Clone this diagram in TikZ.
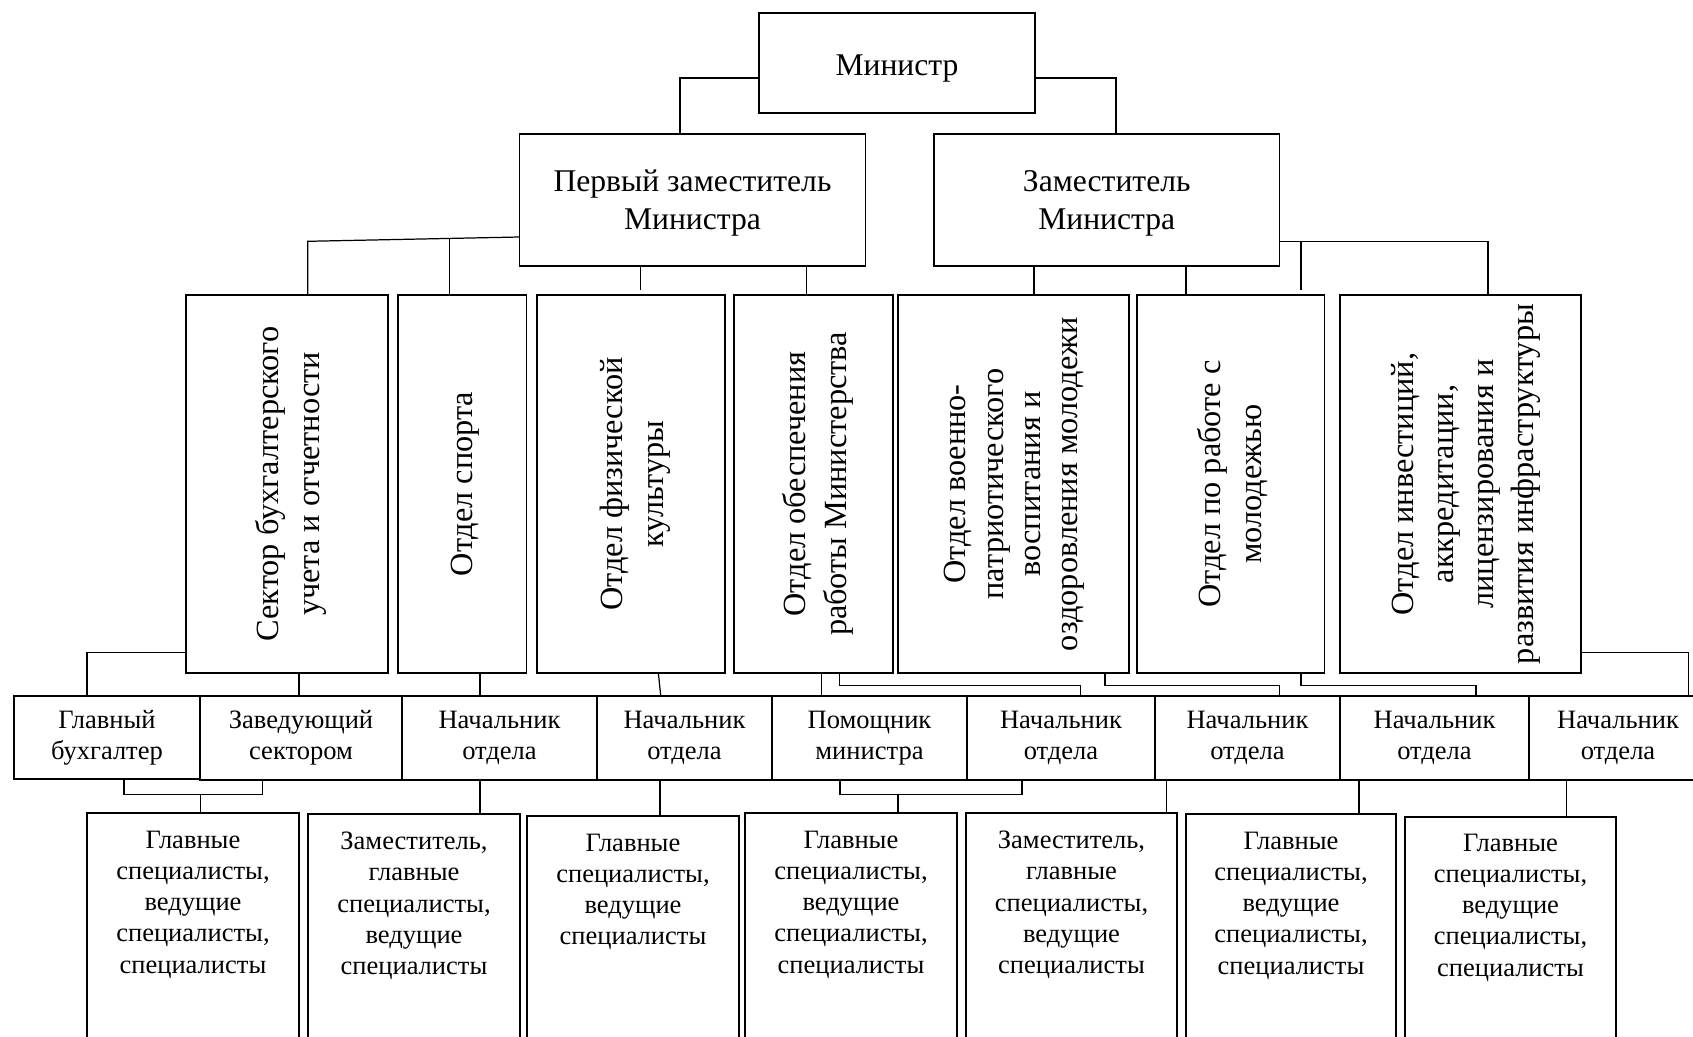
\documentclass[tikz,border=0pt]{standalone}
\usepackage{fontspec}
\setmainfont{Liberation Serif}
\usepackage{tikz}
\usetikzlibrary{positioning,calc,fit}
\tikzset{
  unit/.style={draw, line width=0.7pt, inner sep=0pt, align=center, font=\fontsize{18}{21.6}\selectfont},
  sz/.style 2 args={minimum width=#1*0.02cm, minimum height=#2*0.02cm},
  head/.style={unit, font=\fontsize{15.1}{17.5}\selectfont},
  staff/.style={draw, line width=0.7pt, inner sep=0pt},
  vtext/.style={rotate=90, align=center, inner sep=0pt, font=\fontsize{18.4}{23.3}\selectfont},
  stext/.style={align=center, inner sep=0pt, font=\fontsize{15.1}{17.7}\selectfont},
  link/.style={line width=0.7pt},
}

\begin{document}
\begin{tikzpicture}[x=0.02cm, y=-0.02cm]
  \useasboundingbox (0,0) rectangle (1693,1036);
  \clip (0,0) rectangle (1693,1036);

  \node[unit, sz={276}{100}, text height=14.2pt, text depth=0pt] (min) at (897,63) {Министр};
  \node[unit, sz={346}{132}, text depth=0pt] (fd) at (692.5,200) {Первый заместитель\\Министра};
  \node[unit, sz={345.5}{132}, text depth=0pt] (dep) at (1106.75,200) {Заместитель\\Министра};

  \node[unit, fit={(186,295) (388,673)}] (s1) {};
  \node[unit, fit={(398,295) (526.5,673)}] (s2) {};
  \node[unit, fit={(537,295) (725,673)}] (s3) {};
  \node[unit, fit={(734,295) (893,673)}] (s4) {};
  \node[unit, fit={(898,295) (1129,673)}] (s5) {};
  \node[unit, fit={(1137,295) (1324.5,673)}] (s6) {};
  \node[unit, fit={(1340,295) (1581,673)}] (s7) {};
  \node[vtext] (s1t) at ($(s1)+(4,0)$) {Сектор бухгалтерского\\учета и отчетности};
  \node[vtext] (s2t) at ($(s2)+(3,0)$) {Отдел спорта};
  \node[vtext] (s3t) at ($(s3)+(4,0)$) {Отдел физической\\культуры};
  \node[vtext] (s4t) at ($(s4)+(4,0)$) {Отдел обеспечения\\работы Министерства};
  \node[vtext, font=\fontsize{18.4}{21.2}\selectfont] (s5t) at ($(s5)+(1,0)$) {Отдел военно-\\патриотического\\воспитания и\\оздоровления молодежи};
  \node[vtext] (s6t) at ($(s6)+(2,0)$) {Отдел по работе с\\молодежью};
  \node[vtext, font=\fontsize{18.4}{22.8}\selectfont] (s7t) at ($(s7)+(5,0)$) {Отдел инвестиций,\\аккредитации,\\лицензирования и\\развития инфраструктуры};

  \node[head, sz={186}{83}] (h1) at (107,737.5) {Главный\\бухгалтер};
  \node[head, sz={202}{84}] (h2) at (301,738) {Заведующий\\сектором};
  \node[head, sz={195}{84}] (h3) at (499.5,738) {Начальник\\отдела};
  \node[head, sz={175}{84}] (h4) at (684.5,738) {Начальник\\отдела};
  \node[head, sz={195}{84}] (h5) at (869.5,738) {Помощник\\министра};
  \node[head, sz={188}{84}] (h6) at (1061,738) {Начальник\\отдела};
  \node[head, sz={185}{84}] (h7) at (1247.5,738) {Начальник\\отдела};
  \node[head, sz={189}{84}] (h8) at (1434.5,738) {Начальник\\отдела};
  \node[head, fit={(1529,696) (1720,780)}] (h9) {};
  \node[stext] (h9t) at (1618,738) {Начальник\\отдела};

  \node[staff, fit={(87,813) (299,1060)}] (w1) {};
  \node[staff, fit={(308,814) (520,1060)}] (w2) {};
  \node[staff, fit={(527,816) (739,1060)}] (w3) {};
  \node[staff, fit={(745,813) (957,1060)}] (w4) {};
  \node[staff, fit={(966,813) (1177,1060)}] (w5) {};
  \node[staff, fit={(1186,814) (1396,1060)}] (w6) {};
  \node[staff, fit={(1405,817) (1616,1060)}] (w7) {};
  \node[stext, below=0.37cm of w1.north] (w1t) {Главные\\специалисты,\\ведущие\\специалисты,\\специалисты};
  \node[stext, below=0.37cm of w2.north] (w2t) {Заместитель,\\главные\\специалисты,\\ведущие\\специалисты};
  \node[stext, below=0.37cm of w3.north] (w3t) {Главные\\специалисты,\\ведущие\\специалисты};
  \node[stext, below=0.37cm of w4.north] (w4t) {Главные\\специалисты,\\ведущие\\специалисты,\\специалисты};
  \node[stext, below=0.37cm of w5.north] (w5t) {Заместитель,\\главные\\специалисты,\\ведущие\\специалисты};
  \node[stext, below=0.37cm of w6.north] (w6t) {Главные\\специалисты,\\ведущие\\специалисты,\\специалисты};
  \node[stext, below=0.35cm of w7.north] (w7t) {Главные\\специалисты,\\ведущие\\специалисты,\\специалисты};

  \draw[link] ($(min.west)+(0,15)$) -| (680,0 |- fd.north);
  \draw[link] ($(min.east)+(0,15)$) -| (1116,0 |- dep.north);

  \coordinate (j1) at (307.7,241.3);
  \coordinate (j2) at (449.4,238.4);
  \coordinate (j3) at (1301,241.3);
  \draw[link] ($(fd.west)+(0,37)$) -- (j1) -- (j1 |- s1.north);
  \draw[link] (j2) -- (j2 |- s2.north);
  \draw[link, shorten >=0.08cm] (640.6,0 |- fd.south) -- (640.6,0 |- s3.north);
  \draw[link] (806.5,0 |- fd.south) -- (806.5,0 |- s4.north);
  \draw[link] (1034,0 |- dep.south) -- (1034,0 |- s5.north);
  \draw[link] (1186,0 |- dep.south) -- (1186,0 |- s6.north);
  \draw[link] ($(dep.east)+(0,41.3)$) -| (1488,0 |- s7.north);
  \draw[link, shorten >=0.08cm] (j3) -- (j3 |- s6.north);

  \coordinate (k1) at (839.5,685.5);
  \coordinate (k2) at (1105,685.5);
  \coordinate (k3) at (1301,685.5);
  \draw[link] ($(s1.west)+(0,168.3)$) -| (87,0 |- h1.north);
  \draw[link] (299,0 |- s1.south) -- (299,0 |- h2.north);
  \draw[link] (480,0 |- s2.south) -- (480,0 |- h3.north);
  \draw[link] (658.4,0 |- s3.south) -- (660.7,0 |- h4.north);
  \draw[link] (821.5,0 |- s4.south) -- (821.5,0 |- h5.north);
  \draw[link] (k1 |- s4.south) -- (k1) -| (1080.8,0 |- h6.north);
  \draw[link] (k2 |- s5.south) -- (k2) -| (1279.5,0 |- h7.north);
  \draw[link] (k3 |- s6.south) -- (k3) -| (1476,0 |- h8.north);
  \draw[link] ($(s7.east)+(0,168.3)$) -| (1688.7,0 |- h9.north);

  \coordinate (b1) at (200.3,794.5);
  \coordinate (b2) at (898,794.7);
  \draw[link] (124,0 |- h1.south) |- (b1) -| (262.3,0 |- h2.south);
  \draw[link] (b1) -- (b1 |- w1.north);
  \draw[link] (480,0 |- h3.south) -- (480,0 |- w2.north);
  \draw[link] (660,0 |- h4.south) -- (660,0 |- w3.north);
  \draw[link] (840,0 |- h5.south) |- (b2) -| (1022,0 |- h6.south);
  \draw[link] (b2) -- (b2 |- w4.north);
  \draw[link] (1166.7,0 |- h7.south) -- (1166.7,0 |- w5.north);
  \draw[link] (1359,0 |- h8.south) -- (1359,0 |- w6.north);
  \draw[link] (1566.7,0 |- h9.south) -- (1566.7,0 |- w7.north);
\end{tikzpicture}
\end{document}
